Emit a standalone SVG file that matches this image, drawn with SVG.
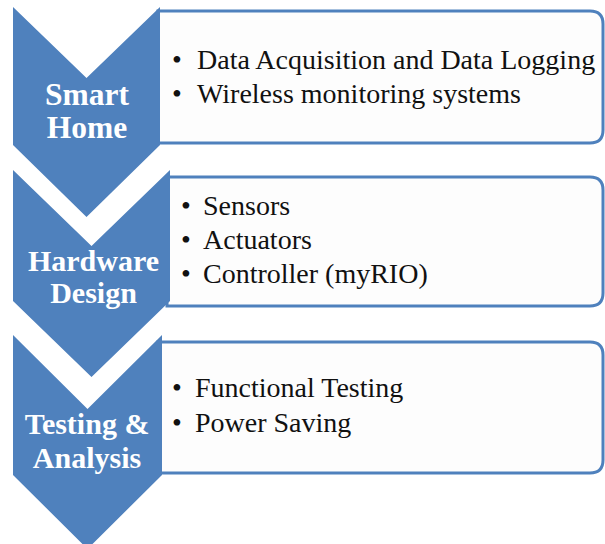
<svg xmlns="http://www.w3.org/2000/svg" width="605" height="544" viewBox="0 0 605 544">
<style>
.box{fill:#fdfdfd;stroke:#4f81bd;stroke-width:3}
.chev{fill:#4f81bd}
.lbl{font-weight:bold;font-size:30px;fill:#ffffff;text-anchor:middle}
.item{font-size:28px;fill:#111111}
</style>
<rect width="605" height="544" fill="#ffffff"/>
<g font-family="'Liberation Serif', 'DejaVu Serif', serif">
<g id="box1">
<path class="box" d="M158,11 H590 Q603,11 603,24 V130 Q603,143 590,143 H158 Z"/>
<text class="item" x="172" y="69">•</text><text class="item" x="197" y="69">Data Acquisition and Data Logging</text>
<text class="item" x="172" y="103">•</text><text class="item" x="197" y="103">Wireless monitoring systems</text>
</g>
<g id="box2">
<path class="box" d="M167,177 H590 Q603,177 603,190 V293 Q603,306 590,306 H167 Z"/>
<text class="item" x="181" y="215">•</text><text class="item" x="203" y="215">Sensors</text>
<text class="item" x="181" y="249">•</text><text class="item" x="203" y="249">Actuators</text>
<text class="item" x="181" y="283">•</text><text class="item" x="203" y="283">Controller (myRIO)</text>
</g>
<g id="box3">
<path class="box" d="M158,342 H590 Q603,342 603,355 V460 Q603,473 590,473 H158 Z"/>
<text class="item" x="172" y="397">•</text><text class="item" x="195" y="397">Functional Testing</text>
<text class="item" x="172" y="432">•</text><text class="item" x="195" y="432">Power Saving</text>
</g>
<g id="chevron1">
<polygon class="chev" points="13,7 86.5,78 160,7 160,145 86.5,217 13,145"/>
<text class="lbl" x="87" y="105" style="font-size:31.5px">Smart</text>
<text class="lbl" x="87" y="138" style="font-size:31.5px">Home</text>
</g>
<g id="chevron2">
<polygon class="chev" points="13,170 91.5,246 170,170 170,301 91.5,377 13,301"/>
<text class="lbl" x="93.5" y="271">Hardware</text>
<text class="lbl" x="93.5" y="303">Design</text>
</g>
<g id="chevron3">
<polygon class="chev" points="13,335 87.5,409 162,335 162,475 87.5,549 13,475"/>
<text class="lbl" x="87" y="434">Testing &amp;</text>
<text class="lbl" x="87" y="468">Analysis</text>
</g>
</g>
<g id="connectors"></g>
</svg>
